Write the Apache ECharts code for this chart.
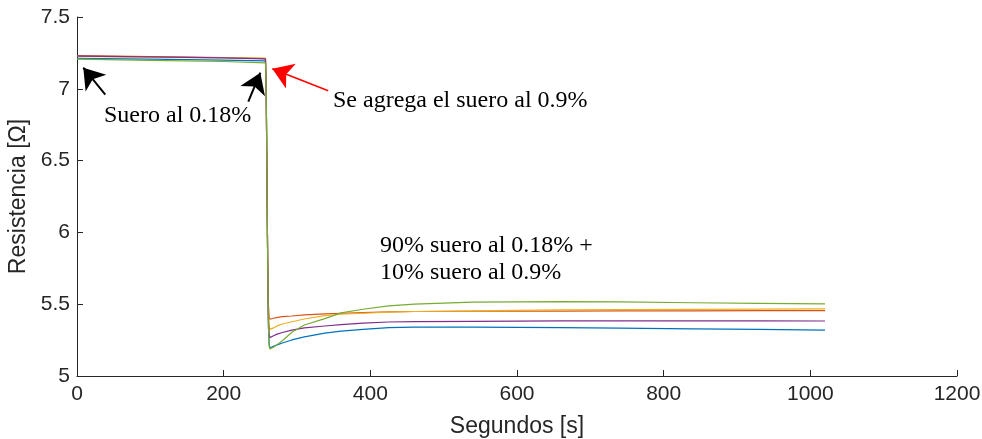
<!DOCTYPE html>
<html>
<head>
<meta charset="utf-8">
<script src="https://cdn.jsdelivr.net/npm/echarts@6/dist/echarts.min.js"></script>
<style>html,body{margin:0;padding:0;background:#fff}#c{width:982px;height:439px}</style>
</head>
<body>
<div id="c"></div>
<script>
var times  = [0, 100, 200, 257, 258, 259, 260, 261, 262, 263, 265, 268, 272, 280, 293, 310, 338, 360, 390, 425, 460, 540, 660, 740, 840, 930, 1020];
var blue   = [7.212, 7.206, 7.200, 7.195, 7.0, 6.4, 5.8, 5.35, 5.22, 5.197, 5.200, 5.207, 5.215, 5.230, 5.251, 5.272, 5.298, 5.312, 5.325, 5.337, 5.341, 5.341, 5.337, 5.333, 5.328, 5.324, 5.320];
var red    = [7.232, 7.225, 7.218, 7.210, 7.0, 6.4, 5.8, 5.50, 5.41, 5.395, 5.397, 5.402, 5.407, 5.413, 5.418, 5.425, 5.432, 5.437, 5.442, 5.447, 5.449, 5.451, 5.452, 5.453, 5.454, 5.455, 5.455];
var yellow = [7.225, 7.220, 7.216, 7.213, 7.0, 6.4, 5.8, 5.45, 5.35, 5.325, 5.327, 5.335, 5.347, 5.362, 5.378, 5.397, 5.420, 5.430, 5.437, 5.445, 5.449, 5.453, 5.460, 5.462, 5.464, 5.466, 5.467];
var purple = [7.228, 7.222, 7.215, 7.208, 7.0, 6.4, 5.8, 5.40, 5.29, 5.267, 5.270, 5.280, 5.290, 5.303, 5.320, 5.335, 5.348, 5.358, 5.368, 5.376, 5.379, 5.381, 5.384, 5.384, 5.384, 5.384, 5.383];
var green  = [7.206, 7.198, 7.190, 7.180, 7.0, 6.4, 5.8, 5.35, 5.21, 5.188, 5.190, 5.200, 5.215, 5.245, 5.305, 5.355, 5.400, 5.440, 5.465, 5.488, 5.500, 5.514, 5.518, 5.516, 5.510, 5.506, 5.502];
var xTicks = [0, 200, 400, 600, 800, 1000, 1200];
var yTicks = [5, 5.5, 6, 6.5, 7, 7.5];

function pairs(v){ return times.map(function(t,i){ return [t, v[i]]; }); }

var seriesDefs = [
  {name:'s1', data: blue,   color:'#0072BD'},
  {name:'s2', data: red,    color:'#D95319'},
  {name:'s3', data: yellow, color:'#EDB120'},
  {name:'s4', data: purple, color:'#7E2F8E'},
  {name:'s5', data: green,  color:'#77AC30'}
];

var series = seriesDefs.map(function(s){
  return {type:'line', name:s.name, data:pairs(s.data), showSymbol:false, symbol:'none',
    lineStyle:{color:s.color, width:1.2}, itemStyle:{color:s.color}, animation:false, z:2};
});

series.push({
  type:'line', data:[], symbol:'none', silent:true, animation:false,
  markLine:{
    silent:true, animation:false, symbol:['none','arrow'], symbolSize:20,
    label:{show:false},
    itemStyle:{color:'#000'},
    lineStyle:{type:'solid', width:2, color:'#000'},
    data:[
      [{coord:[38.6, 6.959]}, {coord:[8.6, 7.147]}],
      [{coord:[233.6, 6.91]}, {coord:[250, 7.112]}],
      [{coord:[342.6, 6.986], lineStyle:{color:'#ff0000', width:1.5}, itemStyle:{color:'#ff0000'}},
       {coord:[266.3, 7.14], lineStyle:{color:'#ff0000', width:1.5}, itemStyle:{color:'#ff0000'}}]
    ]
  }
});

var serif = '"Liberation Serif","Times New Roman",serif';
var sans = '"Liberation Sans",Arial,sans-serif';
var chart = echarts.init(document.getElementById('c'));
chart.setOption({
  animation:false,
  grid:{left:77, right:25, top:17, bottom:63, outerBoundsMode:'none', containLabel:false},
  xAxis:{type:'value', min:0, max:1200, interval:200,
    name:'Segundos [s]', nameLocation:'middle', nameGap:39,
    nameTextStyle:{fontFamily:sans, fontSize:23, color:'#262626'},
    axisLine:{show:true, lineStyle:{color:'#262626', width:1}},
    axisTick:{show:true, inside:true, length:6, lineStyle:{color:'#262626'}},
    axisLabel:{fontFamily:sans, fontSize:21, color:'#262626', margin:8,
      formatter:function(v){ return String(v); }},
    splitLine:{show:false}},
  yAxis:{type:'value', min:5, max:7.5, interval:0.5,
    name:'Resistencia [Ω]', nameLocation:'middle', nameGap:42,
    nameTextStyle:{fontFamily:sans, fontSize:23, color:'#262626'},
    axisLine:{show:true, lineStyle:{color:'#262626', width:1}},
    axisTick:{show:true, inside:true, length:6, lineStyle:{color:'#262626'}},
    axisLabel:{fontFamily:sans, fontSize:21, color:'#262626', margin:7,
      formatter:function(v){ return String(v); }},
    splitLine:{show:false}},
  series:series,
  graphic:[
    {type:'text', left:104, top:104, style:{text:'Suero al 0.18%', font:'24px '+serif, fill:'#000'}},
    {type:'text', left:333, top:89, style:{text:'Se agrega el suero al 0.9%', font:'24px '+serif, fill:'#000'}},
    {type:'text', left:380, top:234, style:{text:'90% suero al 0.18% +', font:'24px '+serif, fill:'#000'}},
    {type:'text', left:380, top:261, style:{text:'10% suero al 0.9%', font:'24px '+serif, fill:'#000'}}
  ]
});
</script>
</body>
</html>
